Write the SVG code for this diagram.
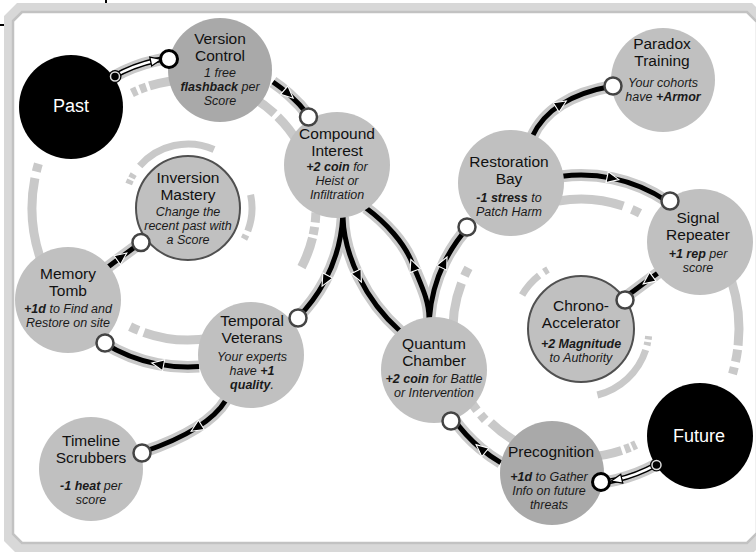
<svg xmlns="http://www.w3.org/2000/svg" width="756" height="552" viewBox="0 0 756 552">
<style>
.ring{fill:none;stroke:#c9c9c9;stroke-width:9}
.sring{fill:none;stroke:#c9c9c9;stroke-width:7}
.halo{fill:none;stroke:#c9c9c9;stroke-width:12}
.wire{fill:none;stroke:#000;stroke-width:5;marker-mid:url(#arr)}
.wout{fill:none;stroke:#000;stroke-width:5.5}
.win{fill:none;stroke:#fff;stroke-width:2.5;marker-mid:url(#warr)}
.node{fill:#c0c0c0}
.dark{fill:#a9a9a9}
.ring-node{fill:#c0c0c0;stroke:#505050;stroke-width:2}
.end{fill:#fff;stroke:#444;stroke-width:2.5}
.endb{fill:#fff;stroke:#000;stroke-width:3}
.t{font-family:'Liberation Sans',Arial,sans-serif;font-size:15.5px;fill:#111;text-anchor:middle}
.d{font-family:'Liberation Sans',Arial,sans-serif;font-size:12.5px;font-style:italic;fill:#1a1a1a;text-anchor:middle}
.b{font-weight:bold}
.big{font-family:'Liberation Sans',Arial,sans-serif;font-size:18px;fill:#fff;text-anchor:middle}
</style>
<defs>
<marker id="arr" viewBox="-1 -7 15 14" refX="6" refY="0" markerWidth="15" markerHeight="14" markerUnits="userSpaceOnUse" orient="auto">
<path d="M0,-5.5 L12,0 L0,5.5 Z" fill="#000" stroke="#fff" stroke-width="1.1"/>
</marker>
<marker id="warr" viewBox="-1 -7 15 14" refX="6" refY="0" markerWidth="15" markerHeight="14" markerUnits="userSpaceOnUse" orient="auto">
<path d="M0,-4.5 L11,0 L0,4.5 Z" fill="#fff" stroke="#000" stroke-width="1.3"/>
</marker>
</defs>
<rect width="756" height="552" fill="#fff"/>
<g id="frame">
<path d="M4,16 L17,3 L752,3 L768,19 L768,538 L752,554 L17,554 L4,541 Z M13,21 L22,12 L747,12 L757,22 L757,533 L747,543 L22,543 L13,534 Z" fill="#d8d8d8" fill-rule="evenodd"/>
<path d="M13,21 L22,12 L747,12 L757,22 L757,533 L747,543 L22,543 L13,534 Z" fill="none" stroke="#c2c2c2" stroke-width="2.5"/>
<rect x="105" y="0" width="2" height="3" fill="#000"/>
<rect x="0" y="24" width="4" height="2" fill="#000"/>
</g>
<g id="orbits">
<path class="ring" d="M131.9,92.95 A128,128 0 0,1 137,90.6"/>
<path class="ring" d="M140.05,89.3 A128,128 0 0,1 146.3,86.98"/>
<path class="ring" d="M149.5,85.9 A128,128 0 0,1 199.2,80.5"/>
<path class="ring" d="M252,97.15 A128,128 0 0,1 274.5,113.6"/>
<path class="ring" d="M277.7,116.7 A128,128 0 0,1 298.8,144"/>
<path class="ring" d="M315.9,212.5 A128,128 0 0,1 315.2,222.5"/>
<path class="ring" d="M314.6,226.9 A128,128 0 0,1 313.2,234.6"/>
<path class="ring" d="M312.5,237.9 A128,128 0 0,1 301.5,267.1"/>
<path class="ring" d="M210.9,338 A132,132 0 0,1 143.9,332.4"/>
<path class="ring" d="M138.6,330.4 A132,132 0 0,1 130.1,326.6"/>
<path class="sring" d="M128.7,184 A64,64 0 0,1 130.5,179.9"/>
<path class="sring" d="M131.5,178 A64,64 0 0,1 133.7,174.1"/>
<path class="sring" d="M139.7,166 A64,64 0 0,1 214,149.5"/>
<path class="sring" d="M250.6,194.7 A64,64 0 0,1 247.8,230.9"/>
<path class="sring" d="M246,235 A64,64 0 0,1 244,239"/>
<path class="ring" d="M41.4,261.4 A156,156 0 0,1 34.9,178.2"/>
<path class="ring" d="M36.3,171.6 A156,156 0 0,1 38.4,163.7"/>
<path class="sring" d="M522.1,295 A68,68 0 0,1 539.1,275.4"/>
<path class="sring" d="M544,272 A68,68 0 0,1 548,269.5"/>
<path class="sring" d="M648.6,336.1 A68,68 0 0,1 648.2,339.6"/>
<path class="sring" d="M647.7,342 A68,68 0 0,1 647,345.4"/>
<path class="sring" d="M645.7,350 A68,68 0 0,1 597.4,395"/>
<path class="ring" d="M558.4,201 A130,130 0 0,1 623.3,206.1"/>
<path class="ring" d="M631.8,209.3 A130,130 0 0,1 640,213.2"/>
<path class="ring" d="M464.5,275.9 A128,128 0 0,1 468.5,267.9"/>
<path class="ring" d="M453.5,340.2 A128,128 0 0,1 461.5,283.1"/>
<path class="ring" d="M477,410.3 A132,132 0 0,1 471.6,402.8"/>
<path class="ring" d="M485.2,419.9 A132,132 0 0,1 480.6,414.7"/>
<path class="ring" d="M520,443.8 A130,130 0 0,1 490.7,422.5"/>
<path class="ring" d="M636.1,444.5 A128,128 0 0,1 632,446.4"/>
<path class="ring" d="M630,447.3 A128,128 0 0,1 624.8,449.3"/>
<path class="ring" d="M621.6,450.4 A128,128 0 0,1 585.5,456.9"/>
<path class="ring" d="M731.3,280.2 A158,158 0 0,1 738.1,345.5"/>
<path class="ring" d="M737.6,349.6 A158,158 0 0,1 735.5,361.8"/>
<path class="ring" d="M734.3,367.2 A158,158 0 0,1 732.5,373.9"/>
</g>
<g id="connectors">
<g id="halos">
<path class="halo" d="M112.5,77.2 A151,151 0 0,1 156.6,60.3 A151,151 0 0,1 167,58.5"/>
<path class="halo" d="M273,82 A152,152 0 0,1 288.7,94.2 A152,152 0 0,1 309.4,116.5"/>
<path class="halo" d="M342.8,216.1 A155,155 0 0,1 324.9,280.8 A155,155 0 0,1 297.6,317.6"/>
<path class="halo" d="M343,217 C343.5,236 349,256.75 358.75,276.6 C368.5,296.5 382.5,315.5 400,331"/>
<path class="halo" d="M429,318 C429,300 421,285 413,265 C405,243 385,222 366,208"/>
<path class="halo" d="M429.4,318.4 A152,152 0 0,1 444.4,262.4 A152,152 0 0,1 468,227.3"/>
<path class="halo" d="M532,137 Q541,117 561.25,104.25 Q581.5,91.5 613,86"/>
<path class="halo" d="M562.2,176.2 A154,154 0 0,1 613,178.4 A154,154 0 0,1 667.1,201.3"/>
<path class="halo" d="M658,273 L648,280.3 L625,297.5"/>
<path class="halo" d="M500.7,462.7 A156,156 0 0,1 480.7,448.5 A156,156 0 0,1 453.2,418.5"/>
<path class="halo" d="M656.1,464.6 A155,155 0 0,1 615.9,480 A155,155 0 0,1 599.9,482.8"/>
<path class="halo" d="M226,400 Q217,415 196.25,428 Q175.5,441 143,452"/>
<path class="halo" d="M199.1,366.6 A159,159 0 0,1 157.7,364.1 A159,159 0 0,1 103.7,342.8"/>
<path class="halo" d="M108,267 L122,256.5 L141,242.5"/>
</g>
<g id="wires">
<path class="wout" d="M112.5,77.2 A151,151 0 0,1 156.6,60.3 A151,151 0 0,1 167,58.5"/>
<path class="win" d="M112.5,77.2 A151,151 0 0,1 156.6,60.3 A151,151 0 0,1 167,58.5"/>
<path class="wire" d="M273,82 A152,152 0 0,1 288.7,94.2 A152,152 0 0,1 309.4,116.5"/>
<path class="wire" d="M342.8,216.1 A155,155 0 0,1 324.9,280.8 A155,155 0 0,1 297.6,317.6"/>
<path class="wire" d="M343,217 C343.5,236 349,256.75 358.75,276.6 C368.5,296.5 382.5,315.5 400,331"/>
<path class="wire" d="M429,318 C429,300 421,285 413,265 C405,243 385,222 366,208"/>
<path class="wire" d="M429.4,318.4 A152,152 0 0,1 444.4,262.4 A152,152 0 0,1 468,227.3"/>
<path class="wire" d="M532,137 Q541,117 561.25,104.25 Q581.5,91.5 613,86"/>
<path class="wire" d="M562.2,176.2 A154,154 0 0,1 613,178.4 A154,154 0 0,1 667.1,201.3"/>
<path class="wire" d="M658,273 L648,280.3 L625,297.5"/>
<path class="wire" d="M500.7,462.7 A156,156 0 0,1 480.7,448.5 A156,156 0 0,1 453.2,418.5"/>
<path class="wout" d="M656.1,464.6 A155,155 0 0,1 615.9,480 A155,155 0 0,1 599.9,482.8"/>
<path class="win" d="M656.1,464.6 A155,155 0 0,1 615.9,480 A155,155 0 0,1 599.9,482.8"/>
<path class="wire" d="M226,400 Q217,415 196.25,428 Q175.5,441 143,452"/>
<path class="wire" d="M199.1,366.6 A159,159 0 0,1 157.7,364.1 A159,159 0 0,1 103.7,342.8"/>
<path class="wire" d="M108,267 L122,256.5 L141,242.5"/>
</g>
</g>
<g id="past"><circle cx="71" cy="107" r="52" fill="#000"/><text class="big" x="71" y="112">Past</text></g>
<g id="future"><circle cx="700" cy="436" r="53" fill="#000"/><text class="big" x="699" y="442">Future</text></g>
<g id="version-control"><circle class="dark" cx="220" cy="70" r="52"/>
<text class="t" x="220" y="44">Version</text><text class="t" x="220" y="61">Control</text>
<text class="d" x="220" y="77">1 free</text><text class="d" x="220" y="91"><tspan class="b">flashback</tspan> per</text><text class="d" x="220" y="105">Score</text></g>
<g id="compound-interest"><circle class="node" cx="337" cy="165" r="53"/>
<text class="t" x="337" y="139">Compound</text><text class="t" x="337" y="156">Interest</text>
<text class="d" x="337" y="171"><tspan class="b">+2 coin</tspan> for</text><text class="d" x="337" y="185">Heist or</text><text class="d" x="337" y="199">Infiltration</text></g>
<g id="inversion-mastery"><circle class="ring-node" cx="188" cy="208" r="52"/>
<text class="t" x="188" y="183">Inversion</text><text class="t" x="188" y="200">Mastery</text>
<text class="d" x="188" y="216">Change the</text><text class="d" x="188" y="230">recent past with</text><text class="d" x="188" y="244">a Score</text></g>
<g id="memory-tomb"><circle class="node" cx="68" cy="300" r="53"/>
<text class="t" x="68" y="279">Memory</text><text class="t" x="68" y="296">Tomb</text>
<text class="d" x="68" y="313"><tspan class="b">+1d</tspan> to Find and</text><text class="d" x="68" y="327">Restore on site</text></g>
<g id="temporal-veterans"><circle class="node" cx="251" cy="355" r="53"/>
<text class="t" x="252" y="326">Temporal</text><text class="t" x="252" y="343">Veterans</text>
<text class="d" x="252" y="361">Your experts</text><text class="d" x="252" y="375">have <tspan class="b">+1</tspan></text><text class="d" x="252" y="389"><tspan class="b">quality</tspan>.</text></g>
<g id="timeline-scrubbers"><circle class="node" cx="91" cy="469" r="52"/>
<text class="t" x="91" y="446">Timeline</text><text class="t" x="91" y="463">Scrubbers</text>
<text class="d" x="91" y="490"><tspan class="b">-1 heat</tspan> per</text><text class="d" x="91" y="504">score</text></g>
<g id="quantum-chamber"><circle class="node" cx="434" cy="370" r="53"/>
<text class="t" x="434" y="349">Quantum</text><text class="t" x="434" y="366">Chamber</text>
<text class="d" x="434" y="383"><tspan class="b">+2 coin</tspan> for Battle</text><text class="d" x="434" y="397">or Intervention</text></g>
<g id="restoration-bay"><circle class="node" cx="511" cy="183" r="53"/>
<text class="t" x="509" y="167">Restoration</text><text class="t" x="509" y="184">Bay</text>
<text class="d" x="509" y="202"><tspan class="b">-1 stress</tspan> to</text><text class="d" x="509" y="216">Patch Harm</text></g>
<g id="paradox-training"><circle class="node" cx="663" cy="80" r="52"/>
<text class="t" x="662" y="49">Paradox</text><text class="t" x="662" y="66">Training</text>
<text class="d" x="663" y="87">Your cohorts</text><text class="d" x="663" y="101">have <tspan class="b">+Armor</tspan></text></g>
<g id="signal-repeater"><circle class="node" cx="700" cy="242" r="53"/>
<text class="t" x="698" y="223">Signal</text><text class="t" x="698" y="240">Repeater</text>
<text class="d" x="698" y="258"><tspan class="b">+1 rep</tspan> per</text><text class="d" x="698" y="272">score</text></g>
<g id="chrono-accelerator"><circle class="ring-node" cx="581" cy="329" r="53"/>
<text class="t" x="581" y="311">Chrono-</text><text class="t" x="581" y="328">Accelerator</text>
<text class="d b" x="581" y="348">+2 Magnitude</text><text class="d" x="581" y="362">to Authority</text></g>
<g id="precognition"><circle class="dark" cx="552" cy="473" r="52"/>
<text class="t" x="551" y="457">Precognition</text>
<text class="d" x="549" y="481"><tspan class="b">+1d</tspan> to Gather</text><text class="d" x="549" y="495">Info on future</text><text class="d" x="549" y="509">threats</text></g>
<g id="ports">
<circle cx="115" cy="76.5" r="6.5" fill="#000"/><circle cx="115" cy="76.5" r="4.5" fill="#000" stroke="#ddd" stroke-width="1.5"/>
<circle cx="656.5" cy="465" r="6.5" fill="#000"/><circle cx="656.5" cy="465" r="4.5" fill="#000" stroke="#ddd" stroke-width="1.5"/>
<circle class="endb" cx="169" cy="59" r="8.5"/>
<circle class="end" cx="308.5" cy="117" r="8.5"/>
<circle class="end" cx="298" cy="318" r="8.5"/>
<circle class="end" cx="467" cy="227" r="8.5"/>
<circle class="end" cx="613" cy="86" r="8.5"/>
<circle class="end" cx="670" cy="201" r="8.5"/>
<circle class="end" cx="625" cy="300" r="8.5"/>
<circle class="end" cx="451" cy="421" r="8.5"/>
<circle class="endb" cx="601" cy="482" r="8.5"/>
<circle class="end" cx="142" cy="453" r="8.5"/>
<circle class="end" cx="105" cy="343" r="8.5"/>
<circle class="end" cx="141" cy="242.5" r="8.5"/>
</g>
</svg>
